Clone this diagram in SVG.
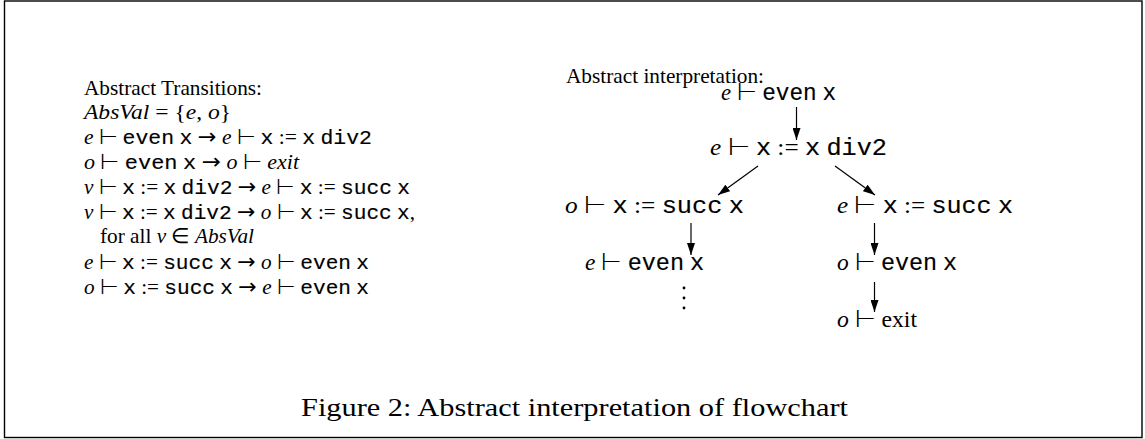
<svg xmlns="http://www.w3.org/2000/svg" width="1145" height="439" viewBox="0 0 1145 439">
<style>
text{font-family:"Liberation Serif","Times New Roman",serif;font-size:21px;fill:#000}
.i{font-style:italic}
.m{font-family:"Liberation Mono","Courier New",monospace;stroke:#000;stroke-width:0.15}
.s{font-family:"DejaVu Sans",sans-serif;font-size:22px}
.t{font-size:24px}
.cap{font-size:26px}
.c{stroke:#000;stroke-width:1.2;fill:none}
</style>
<defs>
<marker id="ah" viewBox="0 0 12 8" refX="12" refY="4" markerWidth="12" markerHeight="8" markerUnits="userSpaceOnUse" orient="auto">
<path d="M0,0 L12,4 L0,8 Z" fill="#000"/>
</marker>
</defs>
<rect x="4.5" y="1" width="1137.5" height="436.5" fill="#fff" stroke="#000" stroke-width="1.4"/>
<g id="rules">
<text x="84" y="95" textLength="178" lengthAdjust="spacingAndGlyphs">Abstract Transitions:</text>
<text x="84" y="119" textLength="147" lengthAdjust="spacingAndGlyphs"><tspan class="i">AbsVal</tspan> = {<tspan class="i">e</tspan>, <tspan class="i">o</tspan>}</text>
<text x="84" y="144" textLength="288" lengthAdjust="spacingAndGlyphs"><tspan class="i">e</tspan> ⊢ <tspan class="m">even</tspan> <tspan class="m">x</tspan> <tspan class="s">→</tspan> <tspan class="i">e</tspan> ⊢ <tspan class="m">x</tspan> := <tspan class="m">x</tspan> <tspan class="m">div2</tspan></text>
<text x="84" y="169" textLength="215" lengthAdjust="spacingAndGlyphs"><tspan class="i">o</tspan> ⊢ <tspan class="m">even</tspan> <tspan class="m">x</tspan> <tspan class="s">→</tspan> <tspan class="i">o</tspan> ⊢ <tspan class="i">exit</tspan></text>
<text x="84" y="194" textLength="326" lengthAdjust="spacingAndGlyphs"><tspan class="i">v</tspan> ⊢ <tspan class="m">x</tspan> := <tspan class="m">x</tspan> <tspan class="m">div2</tspan> <tspan class="s">→</tspan> <tspan class="i">e</tspan> ⊢ <tspan class="m">x</tspan> := <tspan class="m">succ</tspan> <tspan class="m">x</tspan></text>
<text x="84" y="219" textLength="331" lengthAdjust="spacingAndGlyphs"><tspan class="i">v</tspan> ⊢ <tspan class="m">x</tspan> := <tspan class="m">x</tspan> <tspan class="m">div2</tspan> <tspan class="s">→</tspan> <tspan class="i">o</tspan> ⊢ <tspan class="m">x</tspan> := <tspan class="m">succ</tspan> <tspan class="m">x</tspan>,</text>
<text x="100" y="243" textLength="154" lengthAdjust="spacingAndGlyphs">for all <tspan class="i">v</tspan> ∈ <tspan class="i">AbsVal</tspan></text>
<text x="84" y="269" textLength="285" lengthAdjust="spacingAndGlyphs"><tspan class="i">e</tspan> ⊢ <tspan class="m">x</tspan> := <tspan class="m">succ</tspan> <tspan class="m">x</tspan> <tspan class="s">→</tspan> <tspan class="i">o</tspan> ⊢ <tspan class="m">even</tspan> <tspan class="m">x</tspan></text>
<text x="84" y="294" textLength="285" lengthAdjust="spacingAndGlyphs"><tspan class="i">o</tspan> ⊢ <tspan class="m">x</tspan> := <tspan class="m">succ</tspan> <tspan class="m">x</tspan> <tspan class="s">→</tspan> <tspan class="i">e</tspan> ⊢ <tspan class="m">even</tspan> <tspan class="m">x</tspan></text>
</g>
<text x="566" y="83" textLength="198" lengthAdjust="spacingAndGlyphs">Abstract interpretation:</text>
<g id="n1"><text class="t" x="721" y="100" textLength="115" lengthAdjust="spacingAndGlyphs"><tspan class="i">e</tspan> ⊢ <tspan class="m">even</tspan> <tspan class="m">x</tspan></text></g>
<g id="n2"><text class="t" x="710" y="155" textLength="177" lengthAdjust="spacingAndGlyphs"><tspan class="i">e</tspan> ⊢ <tspan class="m">x</tspan> := <tspan class="m">x</tspan> <tspan class="m">div2</tspan></text></g>
<g id="n3"><text class="t" x="565" y="213" textLength="179" lengthAdjust="spacingAndGlyphs"><tspan class="i">o</tspan> ⊢ <tspan class="m">x</tspan> := <tspan class="m">succ</tspan> <tspan class="m">x</tspan></text></g>
<g id="n4"><text class="t" x="837" y="213" textLength="176" lengthAdjust="spacingAndGlyphs"><tspan class="i">e</tspan> ⊢ <tspan class="m">x</tspan> := <tspan class="m">succ</tspan> <tspan class="m">x</tspan></text></g>
<g id="n5"><text class="t" x="585" y="270" textLength="119" lengthAdjust="spacingAndGlyphs"><tspan class="i">e</tspan> ⊢ <tspan class="m">even</tspan> <tspan class="m">x</tspan></text>
<circle cx="684" cy="288" r="1.4"/><circle cx="684" cy="298" r="1.4"/><circle cx="684" cy="308" r="1.4"/></g>
<g id="n6"><text class="t" x="837" y="270" textLength="120" lengthAdjust="spacingAndGlyphs"><tspan class="i">o</tspan> ⊢ <tspan class="m">even</tspan> <tspan class="m">x</tspan></text></g>
<g id="n7"><text class="t" x="837" y="327" textLength="80" lengthAdjust="spacingAndGlyphs"><tspan class="i">o</tspan> ⊢ exit</text></g>
<g id="connectors">
<line class="c" x1="796.5" y1="107" x2="796.5" y2="140" marker-end="url(#ah)"/>
<line class="c" x1="758" y1="166" x2="718" y2="195" marker-end="url(#ah)"/>
<line class="c" x1="835" y1="166" x2="875" y2="195" marker-end="url(#ah)"/>
<line class="c" x1="691" y1="223" x2="691" y2="255" marker-end="url(#ah)"/>
<line class="c" x1="874.5" y1="223" x2="874.5" y2="255" marker-end="url(#ah)"/>
<line class="c" x1="874.5" y1="282" x2="874.5" y2="312" marker-end="url(#ah)"/>
</g>
<text class="cap" x="301" y="416" textLength="547" lengthAdjust="spacingAndGlyphs">Figure 2: Abstract interpretation of flowchart</text>
</svg>
